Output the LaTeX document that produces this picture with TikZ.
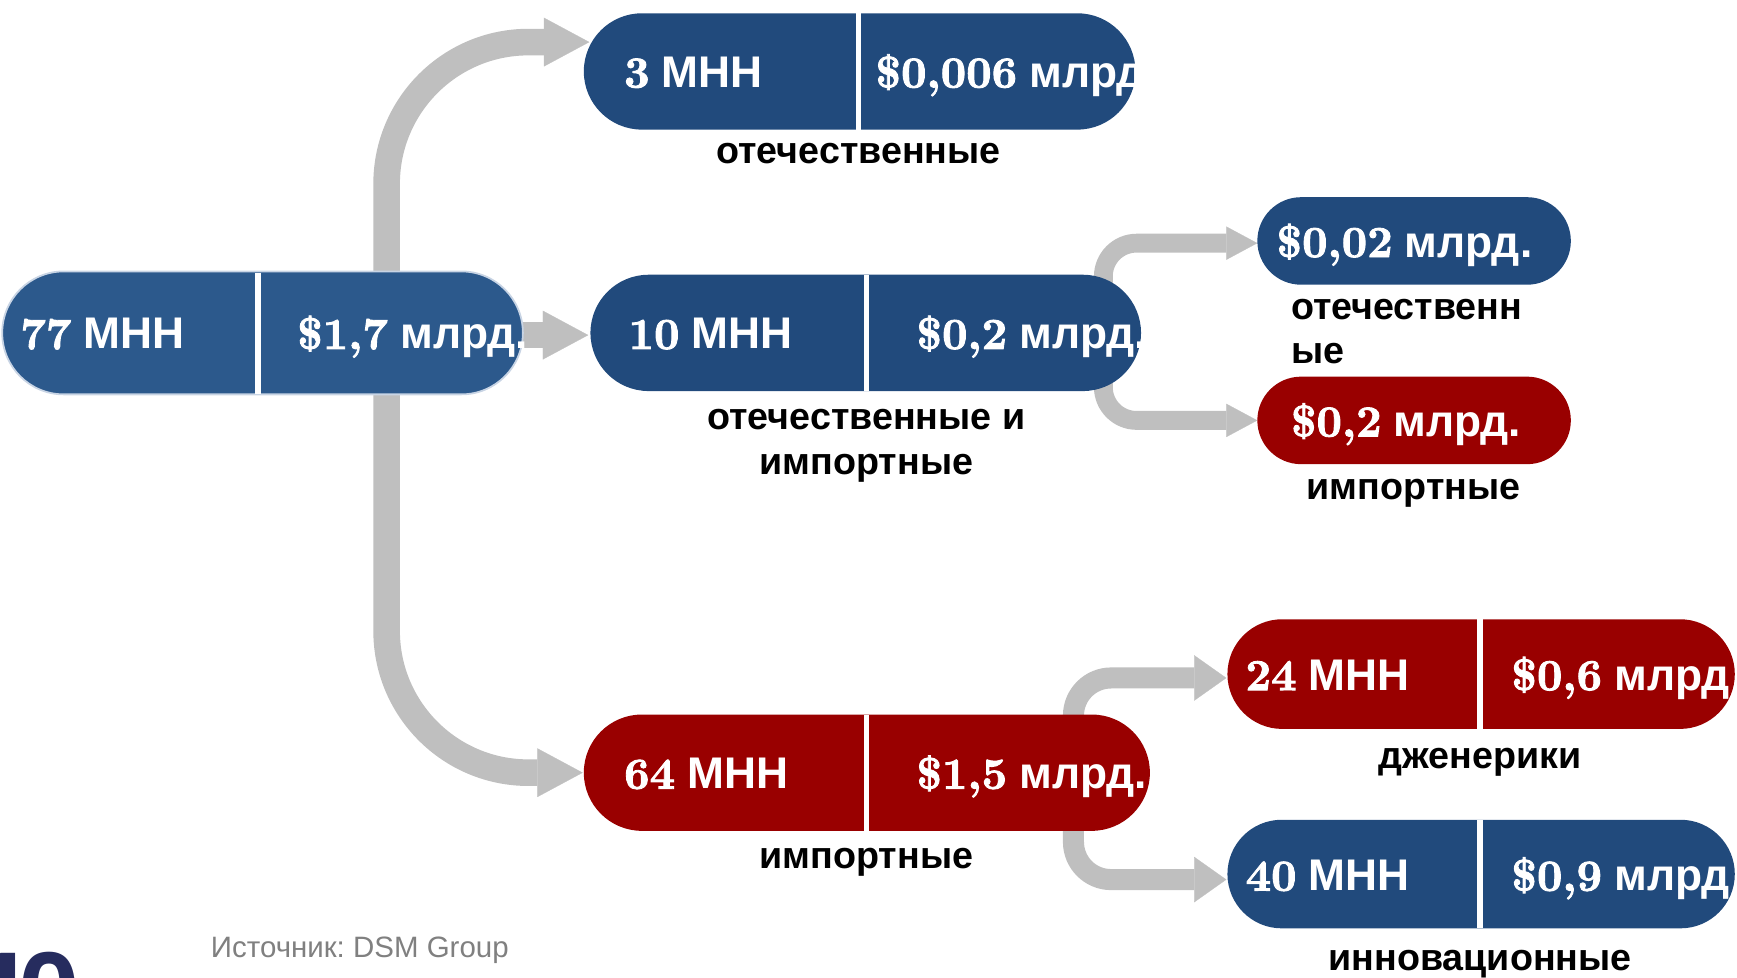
\documentclass[tikz,border=0pt]{standalone}
\usepackage{fontspec}
\setmainfont{Liberation Sans}
\newfontfamily\numfont{lmroman10-bold.otf}[FakeBold=2]
\usetikzlibrary{arrows.meta,calc}
\definecolor{pblue}{RGB}{33,74,124}
\definecolor{pblueA}{RGB}{44,89,140}
\definecolor{aedge}{RGB}{200,212,228}
\definecolor{pred}{RGB}{153,0,0}
\definecolor{agrey}{RGB}{191,191,191}
\definecolor{srcgrey}{RGB}{128,128,128}
\definecolor{navy}{RGB}{38,44,94}
\pgfdeclarelayer{bg}
\pgfsetlayers{bg,main}
\newcommand\pnum[1]{{\numfont #1}}
\frenchspacing
\begin{document}
\begin{tikzpicture}[x=0.5pt,y=-0.5pt,
  pill/.style={rectangle, inner sep=0pt, outer sep=0pt},
  bigpill/.style={pill, minimum height=52.5pt, rounded corners=26.25pt},
  divider/.style={draw=white, line width=2.5pt},
  ptext/.style={anchor=base west, inner sep=0pt, text=white, font=\fontsize{20}{24}\selectfont\bfseries},
  lab/.style={anchor=base, inner sep=0pt, font=\fontsize{17}{20}\selectfont\bfseries},
  labw/.style={anchor=base west, inner sep=0pt, font=\fontsize{17}{20}\selectfont\bfseries},
  bigarrow/.style={draw=agrey, line width=12pt, rounded corners=64pt,
     -{Triangle[length=20.5pt,width=22pt,line width=0.1pt]}},
  smallarrowA/.style={draw=agrey, line width=8.5pt, rounded corners=15pt,
     -{Triangle[length=14pt,width=15pt,line width=0.1pt]}},
  smallarrowB/.style={draw=agrey, line width=9.5pt, rounded corners=17pt,
     -{Triangle[length=14.5pt,width=20.5pt,line width=0.1pt]}}
]
\useasboundingbox (0,0) rectangle (1568,882);
\clip (0,0) rectangle (1568,882);

% pills
\node[pill, fill=pblueA, draw=aedge, line width=0.8pt, minimum width=235pt, minimum height=55.5pt, rounded corners=27.75pt] (A) at (237,300.5) {};
\node[bigpill, fill=pblue, minimum width=249pt] (B) at (776,64.5) {};
\node[bigpill, fill=pblue, minimum width=248.5pt] (C) at (781.5,300.5) {};
\node[pill, fill=pblue, minimum width=141.5pt, minimum height=39.5pt, rounded corners=19.75pt] (D) at (1276.5,217.5) {};
\node[pill, fill=pred, minimum width=141.5pt, minimum height=39.5pt, rounded corners=19.75pt] (E) at (1276.5,379.5) {};
\node[bigpill, fill=pred, minimum width=255.5pt] (F) at (782.5,697.5) {};
\node[pill, fill=pred, minimum width=229pt, minimum height=49.5pt, rounded corners=24.75pt] (G) at (1337,608.5) {};
\node[pill, fill=pblue, minimum width=229pt, minimum height=49pt, rounded corners=24.5pt] (H) at (1337,789) {};

% dividers
\draw[divider] (233,246) -- (233,356);
\draw[divider] (775,12) -- (775,117);
\draw[divider] (782,248) -- (782,353);
\draw[divider] (782,645) -- (782,750);
\draw[divider] (1336,559) -- (1336,658);
\draw[divider] (1336,740) -- (1336,838);

% connectors
\begin{pgfonlayer}{bg}
\coordinate (Aup) at (349,280);
\coordinate (Adn) at (349,320);
\coordinate (Cs) at (996,300);
\coordinate (Fs) at (969,697);
\draw[bigarrow] (Aup) |- ($(B.west)+(5,-26.5)$);
\draw[bigarrow] (Adn) |- ($(F.west)+(-1,0)$);
\draw[bigarrow, rounded corners=0pt] ($(A.east)+(-10,2)$) -- ($(C.west)+(-2,2)$);
\draw[smallarrowA] (Cs) |- ($(D.west)+(0,2)$);
\draw[smallarrowA] (Cs) |- (E.west);
\draw[smallarrowB] (Fs) |- ($(G.west)+(-1,3.5)$);
\draw[smallarrowB] (Fs) |- ($(H.west)+(-1,5)$);
\end{pgfonlayer}

% pill texts
\node[ptext] (A1) at (18,315) {\pnum{77} МНН};
\node[ptext] (A2) at (268,315) {\pnum{\$1,7} млрд.};
\node[ptext] (B1) at (563,79) {\pnum{3} МНН};
\node[ptext] (B2) at (790,79) {\pnum{\$0,006} млрд};
\node[ptext] (C1) at (567,315) {\pnum{10} МНН};
\node[ptext] (C2) at (827,315) {\pnum{\$0,2} млрд.};
\node[ptext] (D1) at (1152,232) {\pnum{\$0,02} млрд.};
\node[ptext] (E1) at (1165,394) {\pnum{\$0,2} млрд.};
\node[ptext] (F1) at (563,712) {\pnum{64} МНН};
\node[ptext] (F2) at (827,712) {\pnum{\$1,5} млрд.};
\node[ptext] (G1) at (1124,623) {\pnum{24} МНН};
\node[ptext] (G2) at (1364,623) {\pnum{\$0,6} млрд};
\node[ptext] (H1) at (1124,804) {\pnum{40} МНН};
\node[ptext] (H2) at (1364,804) {\pnum{\$0,9} млрд};

% labels
\node[lab] (Bl) at (775,148) {отечественные};
\node[lab] (Cl1) at (782,388) {отечественные и};
\node[lab] (Cl2) at (782,428) {импортные};
\node[labw] (Dl1) at (1165,288) {отечественн};
\node[labw] (Dl2) at (1165,328) {ые};
\node[lab] (El) at (1276,451) {импортные};
\node[lab] (Fl) at (782,784) {импортные};
\node[lab] (Gl) at (1336,694) {дженерики};
\node[lab] (Hl) at (1336,876) {инновационные};

% footer
\node[anchor=base west, inner sep=0pt, text=srcgrey, font=\fontsize{13.3}{16}\selectfont] (src) at (190,864.5) {Источник: DSM Group};
\node[anchor=base west, inner sep=0pt, text=navy, font=\fontsize{50}{60}\selectfont\bfseries] (pg) at (-23,929) {1\kern-0.16em0};
\end{tikzpicture}
\end{document}
